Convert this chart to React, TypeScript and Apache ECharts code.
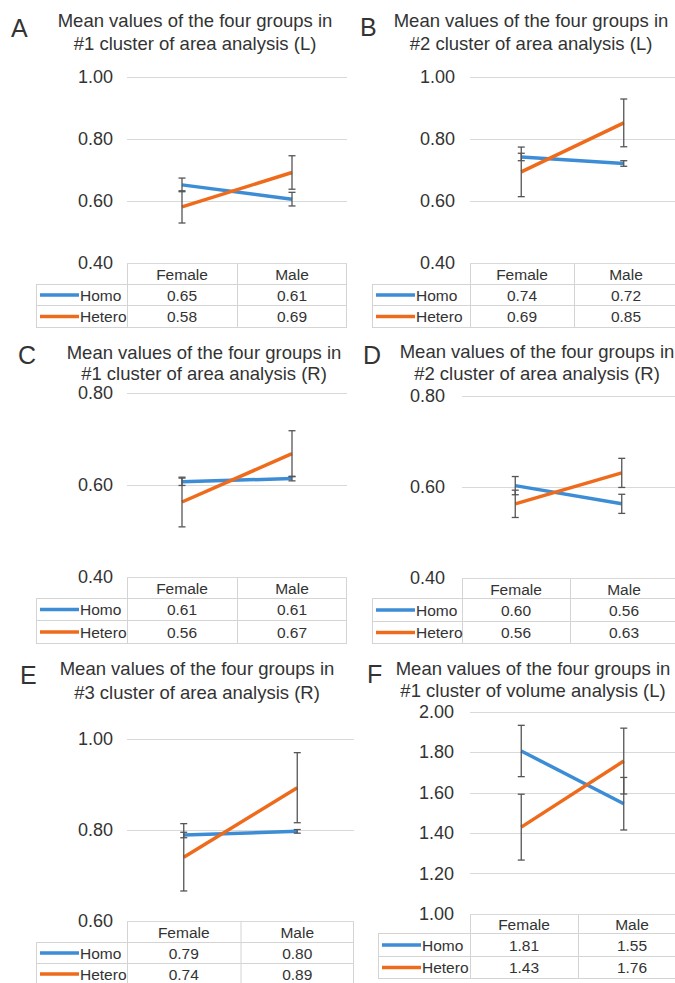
import React, { useEffect, useRef } from 'react';
import * as echarts from 'echarts';

const categories = ['Female', 'Male'];
const groupNames = ['Homo', 'Hetero'];
const panelLetters = ['A', 'B', 'C', 'D', 'E', 'F'];
const titleFirstLine = 'Mean values of the four groups in';
const titleSecondLines = [
  '#1 cluster of area analysis (L)',
  '#2 cluster of area analysis (L)',
  '#1 cluster of area analysis (R)',
  '#2 cluster of area analysis (R)',
  '#3 cluster of area analysis (R)',
  '#1 cluster of volume analysis (L)',
];
const homoMeans = [
  [0.652, 0.606],
  [0.742, 0.721],
  [0.607, 0.614],
  [0.603, 0.563],
  [0.789, 0.797],
  [1.807, 1.546],
];
const heteroMeans = [
  [0.581, 0.692],
  [0.694, 0.852],
  [0.563, 0.668],
  [0.563, 0.631],
  [0.74, 0.893],
  [1.43, 1.757],
];
const homoErrors = [
  [0.022, 0.022],
  [0.012, 0.009],
  [0.008, 0.005],
  [0.02, 0.021],
  [0.006, 0.004],
  [0.127, 0.13],
];
const heteroErrors = [
  [0.052, 0.054],
  [0.08, 0.077],
  [0.054, 0.05],
  [0.03, 0.032],
  [0.074, 0.077],
  [0.163, 0.163],
];
const axisMins = [0.4, 0.4, 0.4, 0.4, 0.6, 1.0];
const axisMaxs = [1.0, 1.0, 0.8, 0.8, 1.0, 2.0];
const axisStep = 0.2;

// layout (positions only)
const frames = [
  { lx: 11, ly: 15, tx: 195, ty: 11, tg: 23, gl: 127, gw: 220, gt: 77, gh: 186, tl: 36, rows: [263, 284, 305, 327], lm: 14 },
  { lx: 360, ly: 14, tx: 531, ty: 11, tg: 23, gl: 470, gw: 208, gt: 77, gh: 186, tl: 372, rows: [263, 284, 305, 327], lm: 15 },
  { lx: 18, ly: 342, tx: 204, ty: 343, tg: 21, gl: 127, gw: 220, gt: 393, gh: 184, tl: 36, rows: [577, 598, 620, 643], lm: 14 },
  { lx: 363, ly: 342, tx: 537, ty: 342, tg: 22, gl: 462, gw: 216, gt: 396, gh: 182, tl: 372, rows: [578, 598, 621, 643], lm: 17 },
  { lx: 20, ly: 662, tx: 197, ty: 659, tg: 24, gl: 127, gw: 227, gt: 739, gh: 182, tl: 36, rows: [921, 942, 963, 984], lm: 14 },
  { lx: 367, ly: 661, tx: 533, ty: 659, tg: 22, gl: 470, gw: 216, gt: 712, gh: 202, tl: 378, rows: [914, 933, 956, 978], lm: 16 },
];

const FONT = '"Liberation Sans", Arial, Helvetica, sans-serif';
const BLUE = '#3d8dd6';
const ORANGE = '#ef6b1c';
const TEXT = '#333333';
const BORDER = '#d4d4d4';

function text(x: number, y: number, t: string, size: number, align: string, valign: string) {
  return {
    type: 'text',
    x,
    y,
    silent: true,
    style: {
      text: t,
      font: `${size}px ${FONT}`,
      fill: TEXT,
      align,
      verticalAlign: valign,
      textAlign: align,
      textVerticalAlign: valign,
    },
  };
}

function line(x1: number, y1: number, x2: number, y2: number, stroke: string, w: number) {
  return {
    type: 'line',
    silent: true,
    shape: { x1, y1, x2, y2 },
    style: { stroke, lineWidth: w },
  };
}

export default function App() {
  const ref = useRef<HTMLDivElement>(null);
  useEffect(() => {
    if (!ref.current) return;
    const chart = echarts.init(ref.current, undefined, { renderer: 'svg' });
    const grids: any[] = [];
    const xAxes: any[] = [];
    const yAxes: any[] = [];
    const series: any[] = [];
    const graphics: any[] = [];

    frames.forEach((f, i) => {
      grids.push({ left: f.gl, top: f.gt, width: f.gw, height: f.gh, containLabel: false });
      xAxes.push({
        type: 'category',
        gridIndex: i,
        data: categories,
        boundaryGap: true,
        axisLine: { show: false },
        axisTick: { show: false },
        axisLabel: { show: false },
        splitLine: { show: false },
      });
      yAxes.push({
        type: 'value',
        gridIndex: i,
        min: axisMins[i],
        max: axisMaxs[i],
        interval: axisStep,
        axisLine: { show: false },
        axisTick: { show: false },
        axisLabel: {
          formatter: (v: number) => v.toFixed(2),
          fontSize: 18,
          fontFamily: FONT,
          color: TEXT,
          margin: f.lm,
        },
        splitLine: { lineStyle: { color: '#d9d9d9', width: 1 } },
      });
      const groupsData = [
        { name: groupNames[0], means: homoMeans[i], errs: homoErrors[i], color: BLUE },
        { name: groupNames[1], means: heteroMeans[i], errs: heteroErrors[i], color: ORANGE },
      ];
      groupsData.forEach((g) => {
        series.push({
          type: 'line',
          name: g.name,
          xAxisIndex: i,
          yAxisIndex: i,
          data: g.means,
          symbol: 'none',
          lineStyle: { width: 3.5, color: g.color },
          itemStyle: { color: g.color },
          z: 2,
        });
      });
      groupsData.forEach((g) => {
        series.push({
          type: 'custom',
          xAxisIndex: i,
          yAxisIndex: i,
          z: 3,
          encode: { x: 0, y: [1, 2] },
          data: g.means.map((m, k) => [k, m - g.errs[k], m + g.errs[k]]),
          renderItem: (params: any, api: any) => {
            const xi = api.value(0);
            const pLo = api.coord([xi, api.value(1)]);
            const pHi = api.coord([xi, api.value(2)]);
            const hw = 3.5;
            const st = { stroke: '#555555', lineWidth: 1.3 };
            return {
              type: 'group',
              children: [
                { type: 'line', shape: { x1: pLo[0], y1: pLo[1], x2: pHi[0], y2: pHi[1] }, style: st },
                { type: 'line', shape: { x1: pLo[0] - hw, y1: pLo[1], x2: pLo[0] + hw, y2: pLo[1] }, style: st },
                { type: 'line', shape: { x1: pHi[0] - hw, y1: pHi[1], x2: pHi[0] + hw, y2: pHi[1] }, style: st },
              ],
            };
          },
        });
      });

      // letter and title
      graphics.push(text(f.lx, f.ly, panelLetters[i], 25, 'left', 'top'));
      graphics.push(text(f.tx, f.ty, titleFirstLine, 18.5, 'center', 'top'));
      graphics.push(text(f.tx, f.ty + f.tg, titleSecondLines[i], 18.5, 'center', 'top'));

      // table
      const gr = f.gl + f.gw;
      const gm = f.gl + f.gw / 2;
      const r = f.rows.map((v) => v + 0.5);
      graphics.push(line(f.gl, r[0], gr, r[0], BORDER, 1));
      graphics.push(line(f.tl, r[1], gr, r[1], BORDER, 1));
      graphics.push(line(f.tl, r[2], gr, r[2], BORDER, 1));
      graphics.push(line(f.tl, r[3], gr, r[3], BORDER, 1));
      graphics.push(line(f.tl + 0.5, r[1], f.tl + 0.5, r[3], BORDER, 1));
      graphics.push(line(f.gl + 0.5, r[0], f.gl + 0.5, r[3], BORDER, 1));
      graphics.push(line(gm + 0.5, r[0], gm + 0.5, r[3], BORDER, 1));
      graphics.push(line(gr - 0.5, r[0], gr - 0.5, r[3], BORDER, 1));
      const colCenters = [f.gl + f.gw / 4, f.gl + (3 * f.gw) / 4];
      categories.forEach((c, k) => {
        graphics.push(text(colCenters[k], (f.rows[0] + f.rows[1]) / 2 + 1, c, 15.5, 'center', 'middle'));
      });
      groupsData.forEach((g, gi) => {
        const yc = (f.rows[gi + 1] + f.rows[gi + 2]) / 2 + 0.5;
        graphics.push(line(f.tl + 4, yc, f.tl + 43, yc, g.color, 3.5));
        graphics.push(text(f.tl + 44, yc, g.name, 15.5, 'left', 'middle'));
        g.means.forEach((m, k) => {
          graphics.push(text(colCenters[k], yc, m.toFixed(2), 15.5, 'center', 'middle'));
        });
      });
    });

    chart.setOption({
      animation: false,
      backgroundColor: '#ffffff',
      grid: grids,
      xAxis: xAxes,
      yAxis: yAxes,
      series,
      graphic: { elements: graphics },
    });
    return () => chart.dispose();
  }, []);
  return (
    <div
      ref={ref}
      style={{ position: 'fixed', left: 0, top: 0, width: 675, height: 983, background: '#fff' }}
    />
  );
}
